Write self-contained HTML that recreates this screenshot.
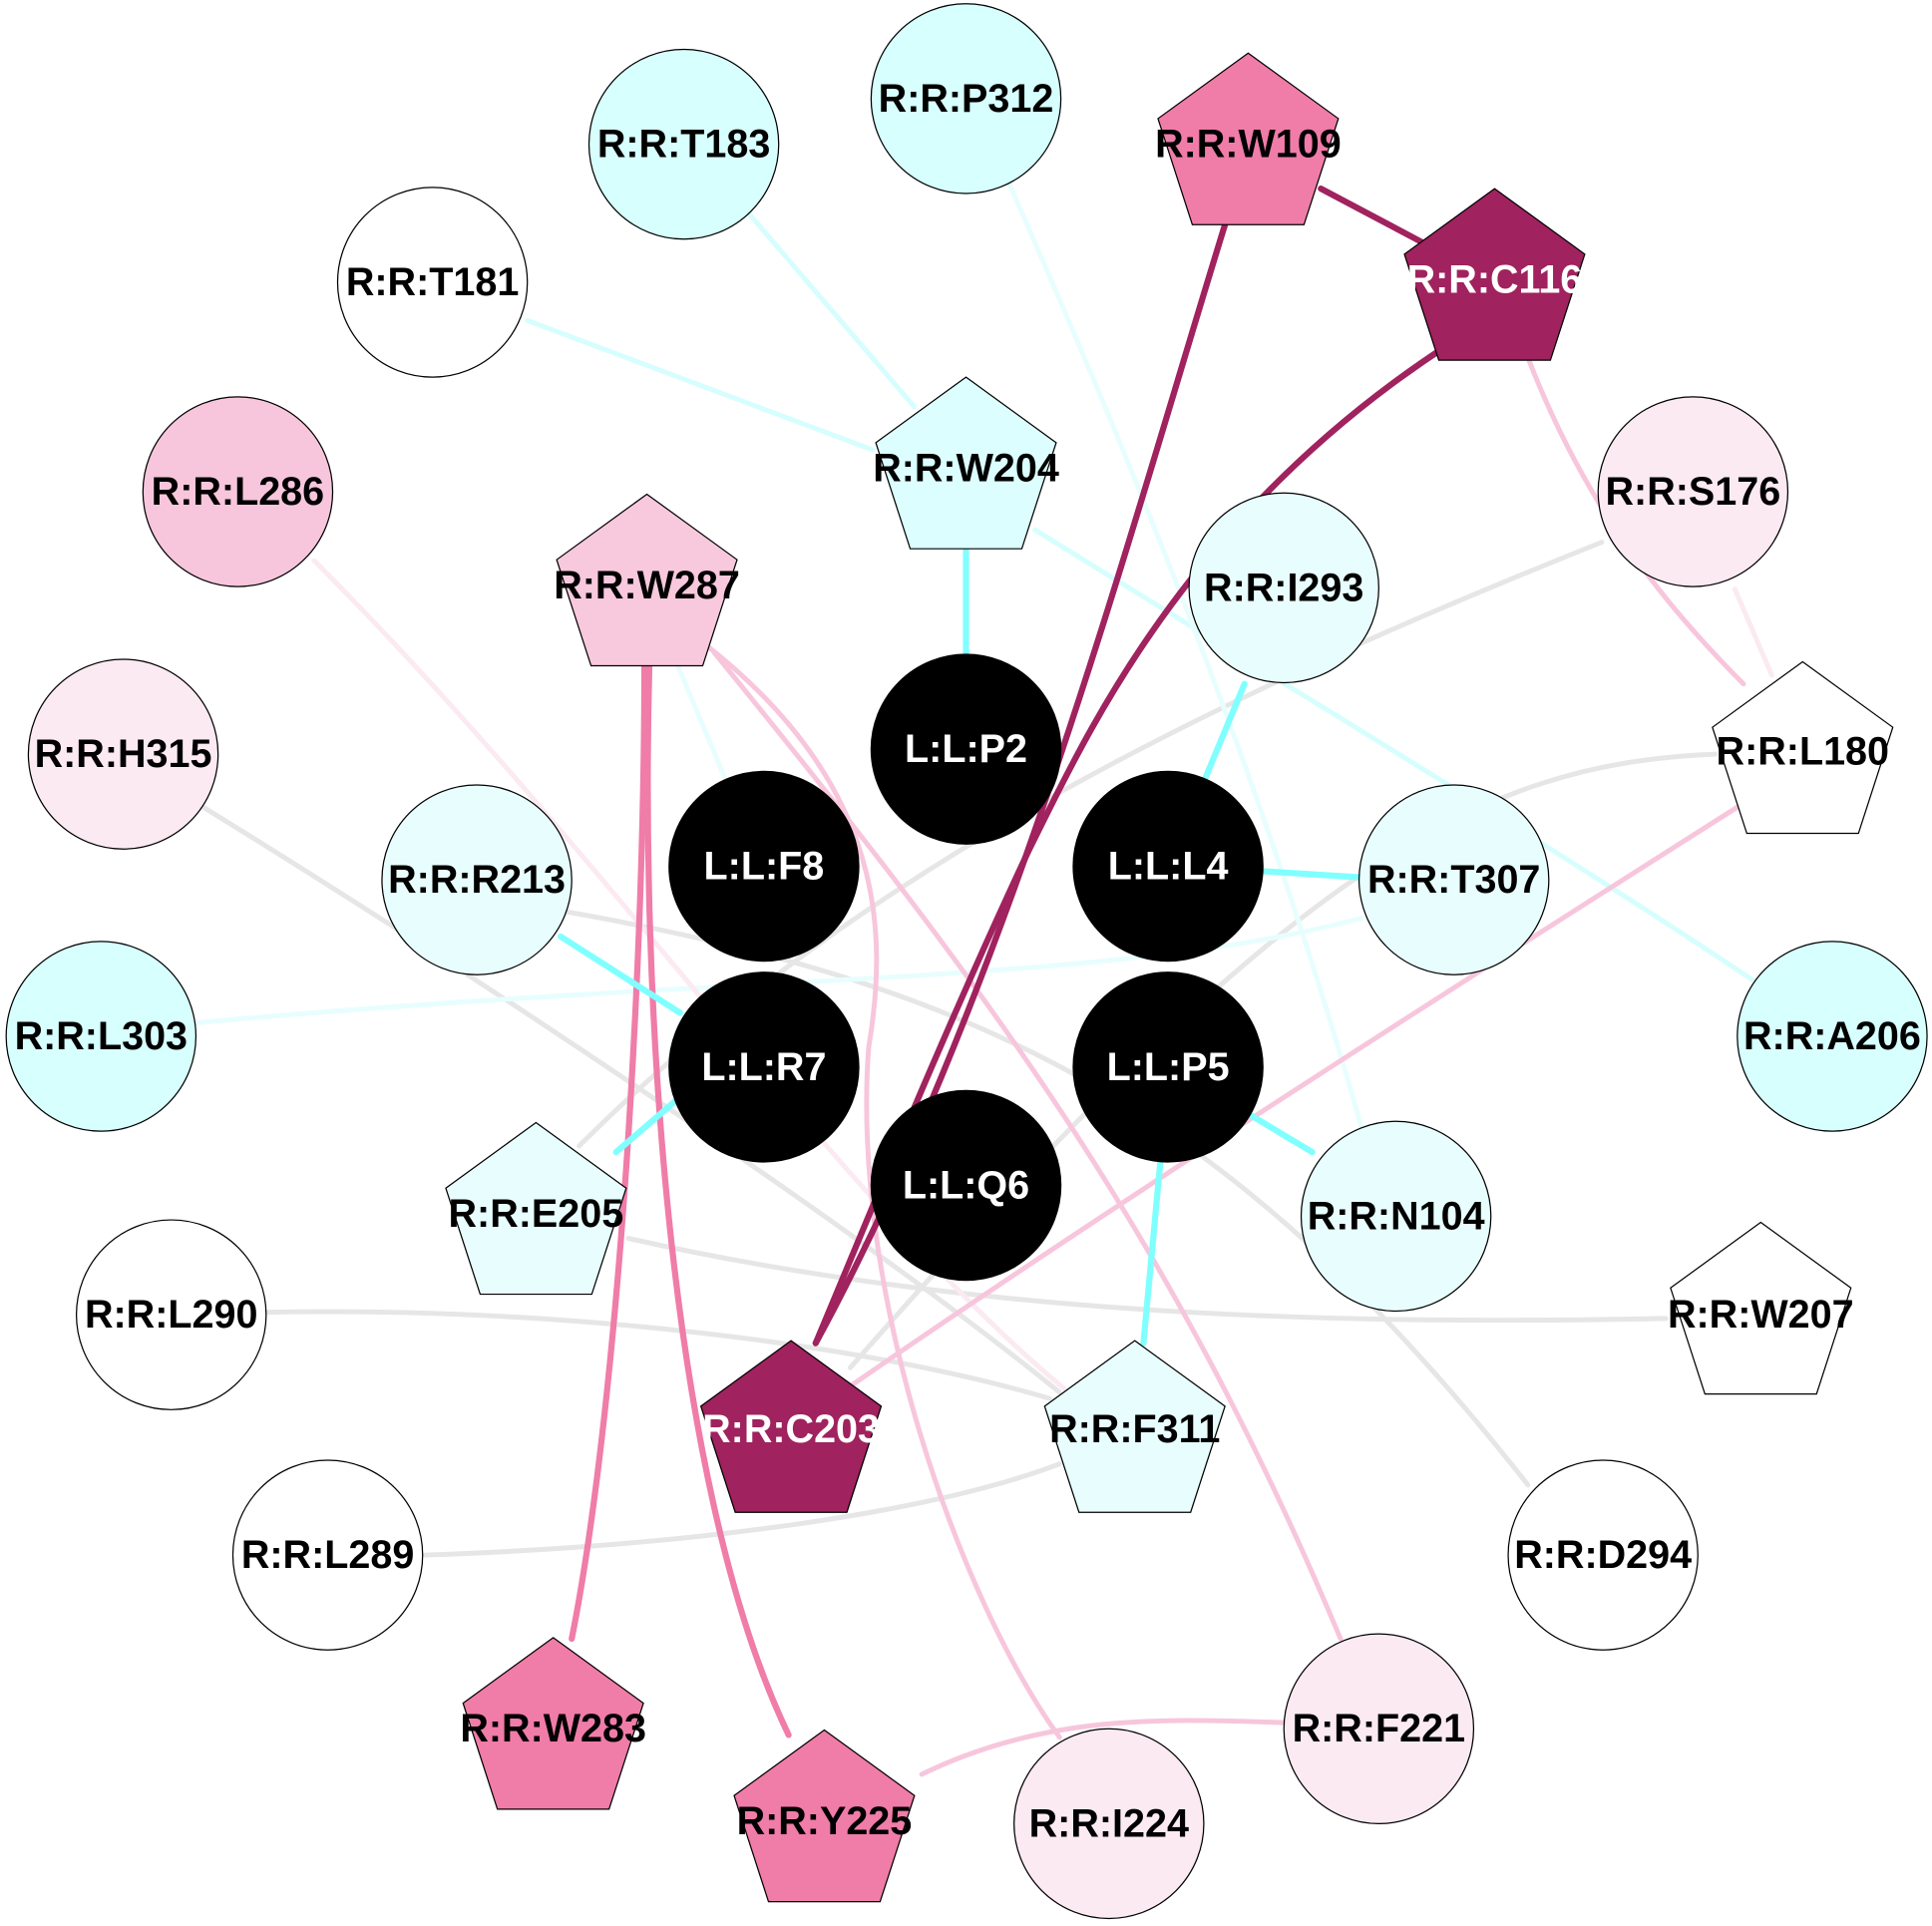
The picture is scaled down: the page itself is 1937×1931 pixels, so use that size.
<!DOCTYPE html>
<html><head><meta charset="utf-8"><style>
html,body{margin:0;padding:0;background:#fff}
svg{display:block}
text{font-family:"Liberation Sans",Arial,sans-serif;font-weight:bold;font-size:32px;text-anchor:middle;dominant-baseline:central}
</style></head><body>
<svg width="1937" height="1931" viewBox="0 0 1568 1563" xmlns="http://www.w3.org/2000/svg">
<g fill="none" stroke-linecap="round">
<path d="M1300,440 C1000,560 700,700 470,930" stroke="#e6e6e6" stroke-width="4"/>
<path d="M1392,612 C1200,620 1050,700 690,1110" stroke="#e6e6e6" stroke-width="4"/>
<path d="M460,740 C800,800 1000,900 1240,1205" stroke="#e6e6e6" stroke-width="4"/>
<path d="M165,655 C400,800 700,1000 860,1130" stroke="#e6e6e6" stroke-width="4"/>
<path d="M510,1005 C800,1070 1100,1075 1352,1070" stroke="#e6e6e6" stroke-width="4"/>
<path d="M215,1065 C450,1060 700,1090 852,1135" stroke="#e6e6e6" stroke-width="4"/>
<path d="M345,1262 C550,1255 750,1230 860,1188" stroke="#e6e6e6" stroke-width="4"/>
<path d="M605,170 L742,330" stroke="#d6fefe" stroke-width="4"/>
<path d="M428,260 L708,365" stroke="#d6fefe" stroke-width="4"/>
<path d="M840,430 C1050,560 1250,680 1422,795" stroke="#d6fefe" stroke-width="4"/>
<path d="M815,140 C930,400 1030,650 1105,915" stroke="#e8fefe" stroke-width="4"/>
<path d="M1105,745 C900,800 600,790 160,830" stroke="#e8fefe" stroke-width="4"/>
<path d="M550,540 L592,640" stroke="#e8fefe" stroke-width="4"/>
<path d="M255,455 C500,700 700,1000 880,1140" stroke="#fbeaf2" stroke-width="4"/>
<path d="M1240,290 C1290,420 1360,500 1415,555" stroke="#f7c6dc" stroke-width="4"/>
<path d="M1408,478 L1438,548" stroke="#fbeaf2" stroke-width="4"/>
<path d="M1410,655 C1150,820 900,980 690,1125" stroke="#f7c6dc" stroke-width="4"/>
<path d="M580,530 C800,800 950,1000 1088,1330" stroke="#f7c6dc" stroke-width="4"/>
<path d="M575,525 C720,640 720,760 705,850 C690,1050 780,1300 860,1410" stroke="#f7c6dc" stroke-width="4"/>
<path d="M748,1440 C850,1390 950,1395 1042,1398" stroke="#f7c6dc" stroke-width="4"/>
<path d="M523,540 C523,800 500,1150 464,1330" stroke="#f07ca8" stroke-width="5"/>
<path d="M527,540 C520,800 540,1200 640,1408" stroke="#f07ca8" stroke-width="5"/>
<path d="M1072,153 L1155,197" stroke="#a0225e" stroke-width="5"/>
<path d="M998,170 C920,420 820,800 662,1090" stroke="#a0225e" stroke-width="5"/>
<path d="M1175,280 C960,420 880,600 835,690 C760,850 700,1000 662,1090" stroke="#a0225e" stroke-width="5"/>
<g stroke="#80ffff" stroke-width="5">
<path d="M784,445 L784,532"/>
<path d="M1010,555 L978,632"/>
<path d="M1025,707 L1104,712"/>
<path d="M455,760 L552,822"/>
<path d="M500,935 L558,885"/>
<path d="M1015,905 L1065,935"/>
<path d="M942,940 L928,1090"/>
</g>
</g>
<g stroke="#000" stroke-width="1">
<circle cx="555" cy="117" r="77" fill="#d6fffe"/>
<circle cx="784" cy="80" r="77" fill="#d6fffe"/>
<circle cx="351" cy="229" r="77" fill="#fff"/>
<circle cx="193" cy="399" r="77" fill="#f7c6dc"/>
<circle cx="1374" cy="399" r="77" fill="#fbeaf2"/>
<circle cx="1042" cy="477" r="77" fill="#e8fefe"/>
<circle cx="100" cy="612" r="77" fill="#fbeaf2"/>
<circle cx="387" cy="714" r="77" fill="#e8fefe"/>
<circle cx="1180" cy="714" r="77" fill="#e8fefe"/>
<circle cx="82" cy="841" r="77" fill="#d6fffe"/>
<circle cx="1487" cy="841" r="77" fill="#d6fffe"/>
<circle cx="1133" cy="987" r="77" fill="#e8fefe"/>
<circle cx="139" cy="1067" r="77" fill="#fff"/>
<circle cx="266" cy="1262" r="77" fill="#fff"/>
<circle cx="1301" cy="1262" r="77" fill="#fff"/>
<circle cx="1119" cy="1403" r="77" fill="#fbeaf2"/>
<circle cx="900" cy="1480" r="77" fill="#fbeaf2"/>
<circle cx="784" cy="608" r="77" fill="#000"/>
<circle cx="620" cy="703" r="77" fill="#000"/>
<circle cx="948" cy="703" r="77" fill="#000"/>
<circle cx="620" cy="866" r="77" fill="#000"/>
<circle cx="948" cy="866" r="77" fill="#000"/>
<circle cx="784" cy="962" r="77" fill="#000"/>
<polygon points="0,-77 73.2,-23.8 45.3,62.3 -45.3,62.3 -73.2,-23.8" transform="translate(1013,120)" fill="#f07ca8"/>
<polygon points="0,-77 73.2,-23.8 45.3,62.3 -45.3,62.3 -73.2,-23.8" transform="translate(1213,230)" fill="#a0225e"/>
<polygon points="0,-77 73.2,-23.8 45.3,62.3 -45.3,62.3 -73.2,-23.8" transform="translate(784,383)" fill="#dcfefe"/>
<polygon points="0,-77 73.2,-23.8 45.3,62.3 -45.3,62.3 -73.2,-23.8" transform="translate(525,478)" fill="#f8c8dd"/>
<polygon points="0,-77 73.2,-23.8 45.3,62.3 -45.3,62.3 -73.2,-23.8" transform="translate(1463,614)" fill="#fff"/>
<polygon points="0,-77 73.2,-23.8 45.3,62.3 -45.3,62.3 -73.2,-23.8" transform="translate(435,988)" fill="#e8fefe"/>
<polygon points="0,-77 73.2,-23.8 45.3,62.3 -45.3,62.3 -73.2,-23.8" transform="translate(1429,1069)" fill="#fff"/>
<polygon points="0,-77 73.2,-23.8 45.3,62.3 -45.3,62.3 -73.2,-23.8" transform="translate(642,1165)" fill="#a0225e"/>
<polygon points="0,-77 73.2,-23.8 45.3,62.3 -45.3,62.3 -73.2,-23.8" transform="translate(921,1165)" fill="#e8fefe"/>
<polygon points="0,-77 73.2,-23.8 45.3,62.3 -45.3,62.3 -73.2,-23.8" transform="translate(449,1406)" fill="#f07ca8"/>
<polygon points="0,-77 73.2,-23.8 45.3,62.3 -45.3,62.3 -73.2,-23.8" transform="translate(669,1481)" fill="#f07ca8"/>
</g>
<g fill="#000">
<text x="555" y="117">R:R:T183</text>
<text x="784" y="80">R:R:P312</text>
<text x="1013" y="117">R:R:W109</text>
<text x="1213" y="227" fill="#fff">R:R:C116</text>
<text x="351" y="229">R:R:T181</text>
<text x="784" y="380">R:R:W204</text>
<text x="193" y="399">R:R:L286</text>
<text x="525" y="475">R:R:W287</text>
<text x="1374" y="399">R:R:S176</text>
<text x="1042" y="477">R:R:I293</text>
<text x="100" y="612">R:R:H315</text>
<text x="1463" y="610">R:R:L180</text>
<text x="387" y="714">R:R:R213</text>
<text x="1180" y="714">R:R:T307</text>
<text x="82" y="841">R:R:L303</text>
<text x="1487" y="841">R:R:A206</text>
<text x="435" y="985">R:R:E205</text>
<text x="1133" y="987">R:R:N104</text>
<text x="139" y="1067">R:R:L290</text>
<text x="1429" y="1067">R:R:W207</text>
<text x="642" y="1160" fill="#fff">R:R:C203</text>
<text x="921" y="1160">R:R:F311</text>
<text x="266" y="1262">R:R:L289</text>
<text x="1301" y="1262">R:R:D294</text>
<text x="449" y="1403">R:R:W283</text>
<text x="1119" y="1403">R:R:F221</text>
<text x="669" y="1478">R:R:Y225</text>
<text x="900" y="1480">R:R:I224</text>
<g fill="#fff">
<text x="784" y="608">L:L:P2</text>
<text x="620" y="703">L:L:F8</text>
<text x="948" y="703">L:L:L4</text>
<text x="620" y="866">L:L:R7</text>
<text x="948" y="866">L:L:P5</text>
<text x="784" y="962">L:L:Q6</text>
</g>
</g>
</svg>
</body></html>
